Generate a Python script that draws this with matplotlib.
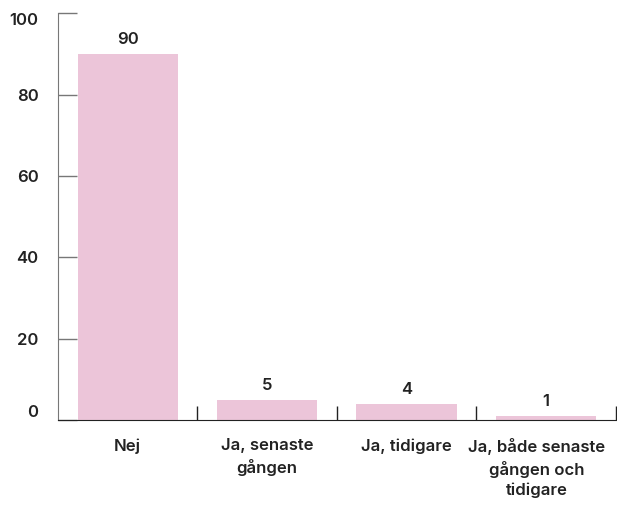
import matplotlib.pyplot as plt
import matplotlib.transforms as mtransforms

categories = ["Nej", "Ja, senaste\ngången", "Ja, tidigare", "Ja, både senaste\ngången och\ntidigare"]
values = [90, 5, 4, 1]
yticks = [0, 20, 40, 60, 80, 100]

plt.rcParams["font.family"] = ["Inter", "DejaVu Sans"]
plt.rcParams["font.weight"] = "semibold"
text_color = "#222222"

fig = plt.figure(figsize=(6.17, 5.08), dpi=100)
ax = fig.add_axes([0.094, 0.173, 0.904, 0.801])

x = range(len(categories))
ax.bar(x, values, width=0.72, color="#ecc5d9", zorder=1)
for i, v in zip(x, values):
    ax.annotate(str(v), (i, v), xytext=(0, 5), textcoords="offset points",
                ha="center", va="bottom", fontsize=12, color=text_color)

ax.set_xlim(-0.5, 3.5)
ax.set_ylim(0, 100)
ax.set_yticks(yticks)
ax.set_yticklabels([str(t) for t in yticks], fontsize=12, color=text_color)
labs = ax.get_yticklabels()
labs[0].set_va("bottom")
labs[-1].set_va("top")
ax.tick_params(axis="y", direction="in", length=14, width=1, color="#777777", pad=14)

ax.set_xticks(list(x))
ax.set_xticklabels(categories, fontsize=12, color=text_color, linespacing=1.4, va="top")
ax.tick_params(axis="x", which="major", length=0, pad=13)
ax.set_xticks([0.5, 1.5, 2.5, 3.5], minor=True)
ax.tick_params(axis="x", which="minor", direction="in", length=10, width=1, color=text_color)

# nudge the long last label left so it stays inside the figure
last = ax.get_xticklabels()[-1]
last.set_transform(last.get_transform() + mtransforms.ScaledTranslation(-9 / 100, 0, fig.dpi_scale_trans))

for s in ["top", "right"]:
    ax.spines[s].set_visible(False)
ax.spines["left"].set_color("#777777")
ax.spines["bottom"].set_color(text_color)

fig.savefig("out.png", dpi=100)
